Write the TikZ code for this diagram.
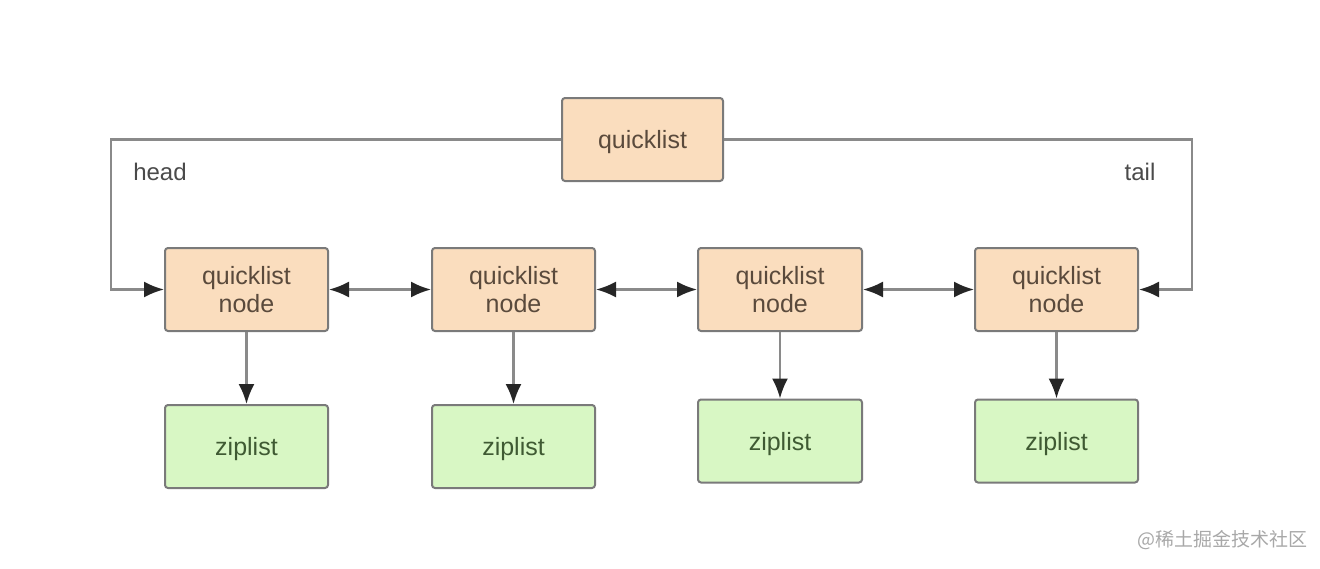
\documentclass[tikz,border=0pt]{standalone}
\usepackage{fontspec}
\setmainfont{Liberation Sans}
\newfontfamily\cjk{Noto Sans CJK SC}
\usetikzlibrary{arrows.meta}
\definecolor{peach}{HTML}{FADDBE}
\definecolor{mint}{HTML}{D8F7C4}
\definecolor{edgegray}{HTML}{7A7A7A}
\definecolor{linegray}{HTML}{8A8A8A}
\definecolor{tipdark}{HTML}{262626}
\definecolor{txtbrown}{HTML}{5A4A3C}
\definecolor{txtgreen}{HTML}{3F5A33}
\definecolor{txtgray}{HTML}{4A4A4A}
\definecolor{wmgray}{HTML}{A8A8A8}
\tikzset{
  box/.style={draw=edgegray, line width=1pt, rounded corners=1.5pt, minimum width=81.5pt, minimum height=41.5pt, inner sep=0pt, align=center, font=\fontsize{12.5}{15}\selectfont},
  qbox/.style={box, fill=peach, text=txtbrown},
  zbox/.style={box, fill=mint, text=txtgreen},
  one/.style={text depth=0pt},
  conn/.style={draw=linegray, line width=1.1pt, -{Latex[length=10pt,width=8pt,color=tipdark]}},
  dconn/.style={draw=linegray, line width=1.1pt, {Latex[length=10pt,width=8pt,color=tipdark]}-{Latex[length=10pt,width=8pt,color=tipdark]}},
  lbl/.style={text=txtgray, font=\fontsize{12}{14}\selectfont},
}
\begin{document}
\begin{tikzpicture}[x=0.5pt,y=-0.5pt]
\useasboundingbox (0,0) rectangle (1320,568);
\node[qbox, one, minimum width=80.5pt] (ql) at (642.5,139.5) {quicklist};
\node[qbox] (n1) at (246.5,289.5) {quicklist\\[-1pt]node};
\node[qbox] (n2) at (513.5,289.5) {quicklist\\[-1pt]node};
\node[qbox, minimum width=82pt] (n3) at (780,289.5) {quicklist\\[-1pt]node};
\node[qbox] (n4) at (1056.5,289.5) {quicklist\\[-1pt]node};
\node[zbox, one] (z1) at (246.5,446.5) {ziplist};
\node[zbox, one] (z2) at (513.5,446.5) {ziplist};
\node[zbox, one, minimum width=82pt] (z3) at (780,441) {ziplist};
\node[zbox, one] (z4) at (1056.5,441) {ziplist};
\coordinate (hl) at (111,139.5);
\coordinate (tr) at (1192,139.5);
\draw[conn] (ql.west) -- (hl) |- (n1.west);
\draw[conn] (ql.east) -- (tr) |- (n4.east);
\draw[dconn] (n1.east) -- (n2.west);
\draw[dconn] (n2.east) -- (n3.west);
\draw[dconn] (n3.east) -- (n4.west);
\draw[conn] (n1.south) -- (z1.north);
\draw[conn] (n2.south) -- (z2.north);
\draw[conn] (n3.south) -- (z3.north);
\draw[conn] (n4.south) -- (z4.north);
\node[lbl] (head) at (160,172) {head};
\node[lbl] (tail) at (1140,172) {tail};
\node[text=wmgray, font=\cjk\fontsize{9.5}{11}\selectfont] (wm) at (1222,540) {@稀土掘金技术社区};
\end{tikzpicture}
\end{document}
